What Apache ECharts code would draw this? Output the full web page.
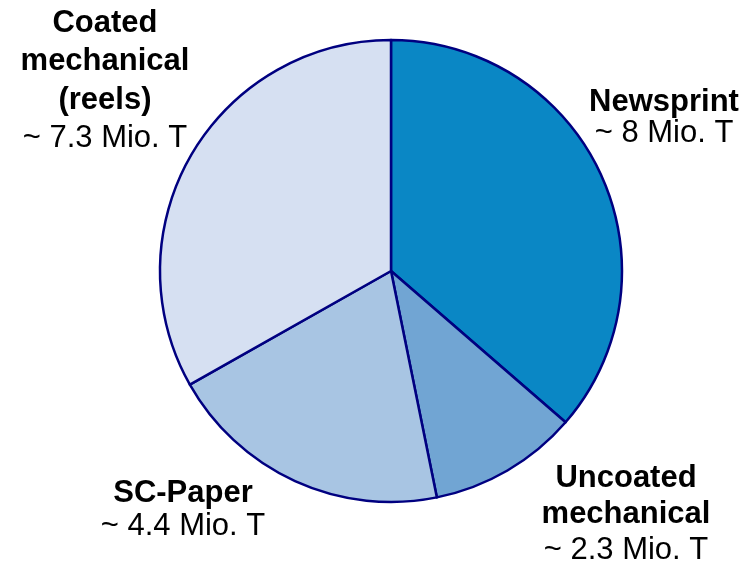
<!DOCTYPE html>
<html>
<head>
<meta charset="utf-8">
<script src="https://cdn.jsdelivr.net/npm/echarts@6/dist/echarts.min.js"></script>
<style>
  html, body { margin: 0; padding: 0; background: #ffffff; }
  #chart { width: 756px; height: 566px; }
</style>
</head>
<body>
<div id="chart"></div>
<script>
// Paper grades and their annual volumes (million tonnes)
const categories = ['Newsprint', 'Uncoated\nmechanical', 'SC-Paper', 'Coated\nmechanical\n(reels)'];
const volumes = [8, 2.3, 4.4, 7.3];
const valueLabels = ['8', '2.3', '4.4', '7.3'];

// Presentation settings per slice
const sliceColors = ['#0A87C5', '#71A5D3', '#A8C5E3', '#D6E0F2'];
const labelSpots = [
  { x: 664, y: 87, lh: 31 },
  { x: 626, y: 460, lh: 36 },
  { x: 183, y: 477, lh: 33 },
  { x: 105, y: 4, lh: 38.5 }
];

const chart = echarts.init(document.getElementById('chart'), null, { renderer: 'canvas' });

const seriesData = categories.map((name, i) => ({
  name: name,
  value: volumes[i],
  itemStyle: { color: sliceColors[i] },
  label: {
    rich: {
      b: { fontFamily: 'Liberation Sans, Arial, sans-serif', fontWeight: 'bold', fontSize: 31, color: '#000', lineHeight: labelSpots[i].lh, align: 'center' },
      v: { fontFamily: 'Liberation Sans, Arial, sans-serif', fontSize: 31, color: '#000', lineHeight: labelSpots[i].lh, align: 'center' }
    }
  }
}));

chart.setOption({
  animation: false,
  backgroundColor: '#ffffff',
  series: [{
    type: 'pie',
    center: [391, 271],
    radius: [0, 231],
    startAngle: 90,
    clockwise: true,
    data: seriesData,
    itemStyle: { borderColor: '#000080', borderWidth: 2.5 },
    emphasis: { disabled: true },
    label: {
      show: true,
      position: 'outside',
      overflow: 'none',
      width: 300,
      formatter: function (p) {
        const lines = p.name.split('\n').map(s => '{b|' + s + '}');
        lines.push('{v|~ ' + valueLabels[p.dataIndex] + ' Mio. T}');
        return lines.join('\n');
      },
      align: 'center'
    },
    labelLine: { show: false },
    labelLayout: function (params) {
      const s = labelSpots[params.dataIndex];
      return { x: s.x, y: s.y, align: 'center', verticalAlign: 'top' };
    }
  }]
});
</script>
</body>
</html>
